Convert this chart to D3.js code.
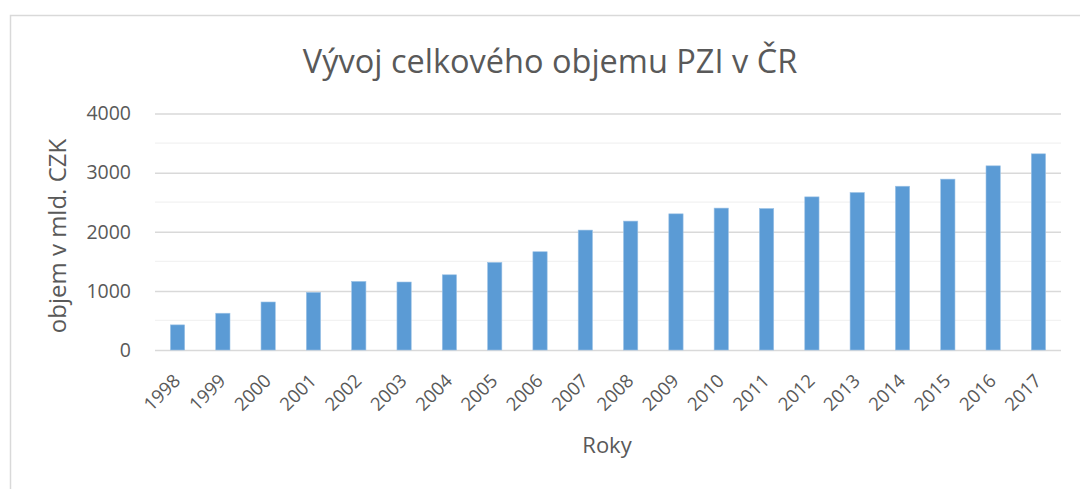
<!DOCTYPE html>
<html>
<head>
<meta charset="utf-8">
<script src="https://cdn.jsdelivr.net/npm/d3@7"></script>
<style>
    body { margin: 0; background: #fff; }
    text { font-family: "Open Sans", "Noto Sans", sans-serif; fill: #595959; }
</style>
</head>
<body>
<svg id="chart" width="1080" height="489"></svg>
<script>
    // data
    var years = ["1998", "1999", "2000", "2001", "2002", "2003", "2004", "2005", "2006", "2007",
        "2008", "2009", "2010", "2011", "2012", "2013", "2014", "2015", "2016", "2017"];
    var volumes = [425, 622, 812, 975, 1160, 1150, 1272, 1482, 1662, 2028,
        2180, 2303, 2400, 2393, 2590, 2664, 2770, 2890, 3115, 3318];
    var yTicks = [0, 1000, 2000, 3000, 4000];
    var yMinorTicks = [500, 1500, 2500, 3500];

    var svg = d3.select("#chart");
    var plot = { left: 155, right: 1061, top: 113.5, bottom: 350 };

    // outer chart border
    svg.append("path")
        .attr("d", "M10.5,489 V15.5 H1080")
        .attr("fill", "none")
        .attr("stroke", "#d9d9d9")
        .attr("stroke-width", 1.5);

    var x = d3.scaleBand()
        .domain(years)
        .range([plot.left, plot.right])
        .paddingInner(0.685)
        .paddingOuter(0.34);

    var y = d3.scaleLinear()
        .domain([0, 4000])
        .range([plot.bottom, plot.top]);

    //minor gridlines first, then major
    svg.append("g").selectAll("line")
        .data(yMinorTicks)
        .enter().append("line")
        .attr("x1", plot.left).attr("x2", plot.right)
        .attr("y1", function (d) { return y(d); })
        .attr("y2", function (d) { return y(d); })
        .attr("stroke", "#f2f2f2")
        .attr("stroke-width", 1.2);

    var yAxis = svg.append("g")
        .attr("transform", "translate(" + plot.left + ",0)")
        .call(d3.axisLeft(y).tickValues(yTicks).tickFormat(d3.format("d"))
            .tickSize(-(plot.right - plot.left)).tickPadding(24));
    yAxis.select(".domain").remove();
    yAxis.selectAll(".tick line")
        .attr("stroke", "#d9d9d9")
        .attr("stroke-width", 1.5);
    yAxis.selectAll(".tick text")
        .attr("fill", "#595959")
        .style("font-size", "19.5px")
        .style("font-family", "'Open Sans', sans-serif");

    svg.append("g").selectAll("rect.bar")
        .data(volumes)
        .enter().append("rect")
        .attr("class", "bar")
        .attr("x", function (d, i) { return x(years[i]); })
        .attr("width", x.bandwidth())
        .attr("y", function (d) { return y(d); })
        .attr("height", function (d) { return y(0) - y(d); })
        .attr("fill", "#5b9bd5")
        .attr("stroke", "#9dc3e6")
        .attr("stroke-width", 0.6);

    var xAxis = svg.append("g")
        .attr("transform", "translate(0," + plot.bottom + ")")
        .call(d3.axisBottom(x).tickSize(0).tickPadding(0));
    xAxis.select(".domain").remove();
    xAxis.selectAll(".tick text")
        .attr("fill", "#595959")
        .style("font-size", "18.5px")
        .style("font-family", "'Open Sans', sans-serif")
        .attr("text-anchor", "end")
        .attr("dy", null)
        .attr("transform", "translate(4,32) rotate(-45)");

    svg.append("text")
        .attr("x", 550)
        .attr("y", 73)
        .attr("text-anchor", "middle")
        .style("font-size", "32.5px")
        .text("Vývoj celkového objemu PZI v ČR");

    svg.append("text")
        .attr("transform", "translate(66,236) rotate(-90)")
        .attr("text-anchor", "middle")
        .style("font-size", "24px")
        .text("objem v mld. CZK");

    svg.append("text")
        .attr("x", 607)
        .attr("y", 453)
        .attr("text-anchor", "middle")
        .style("font-size", "22px")
        .text("Roky");
</script>
</body>
</html>
